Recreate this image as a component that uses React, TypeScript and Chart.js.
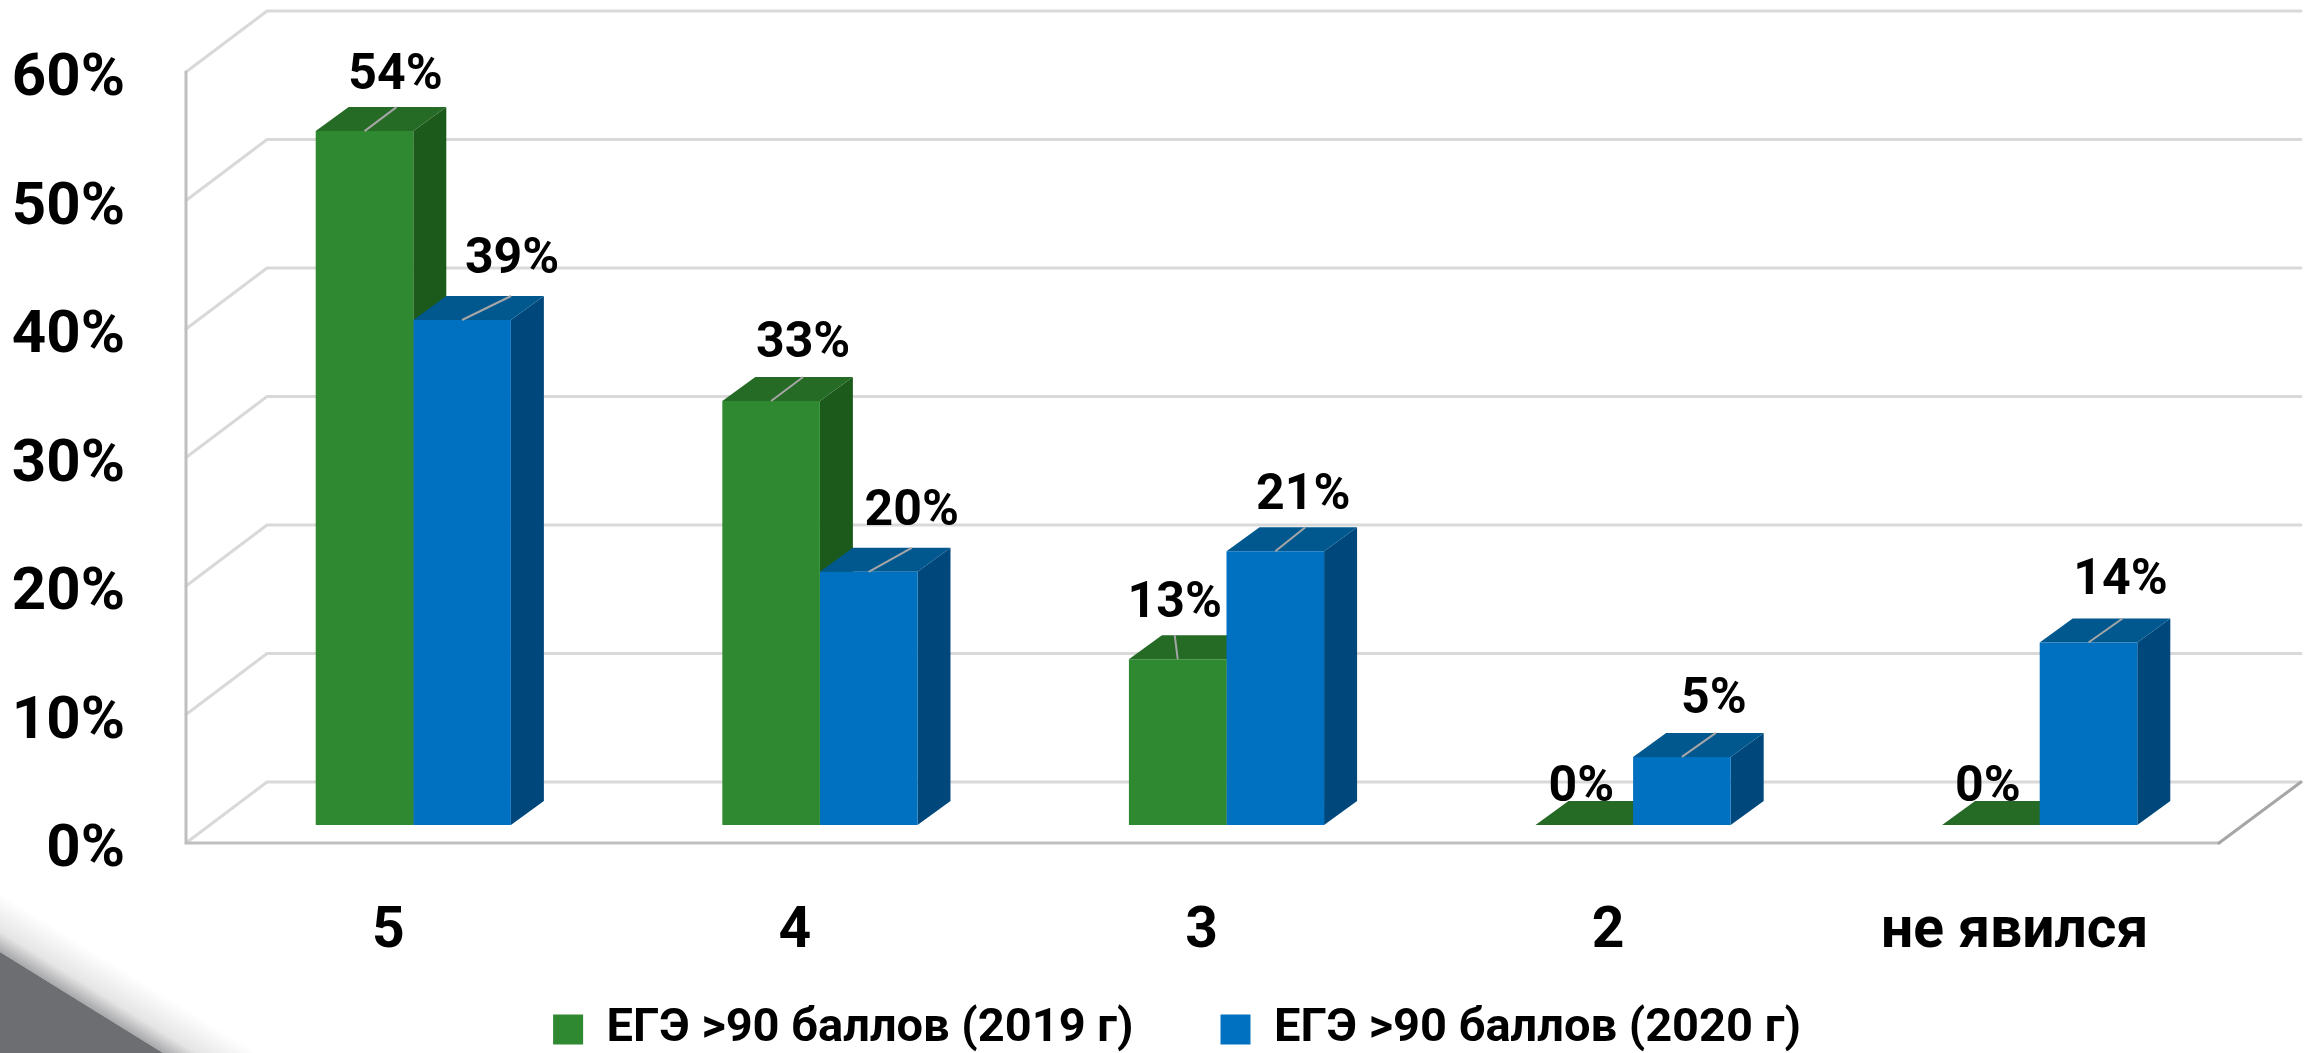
import React, { useEffect, useRef } from "react";
import { Chart, registerables } from "chart.js";

Chart.register(...registerables);

const categories = ["5", "4", "3", "2", "не явился"];
const seriesNames = ["ЕГЭ >90 баллов (2019 г)", "ЕГЭ >90 баллов (2020 г)"];
const values2019 = [54, 33, 12.9, 0, 0];
const values2020 = [39.3, 19.7, 21.3, 5.3, 14.2];
const yTicksMax = 60;
const yTickStep = 10;

// label shift from the middle of a bar's front-top edge, in pixels
const labelDx2019 = [31, 32, -3, -3, -3];
const labelDx2020 = [50, 43, 28, 32, 32];
const labelDy2019 = [-55, -56, -55, -37, -37];
const labelDy2020 = [-59, -59, -55, -56, -61];
const leaderDx2019 = [32, 32, -3, 0, 0];
const leaderDx2020 = [49, 43, 30, 34, 34];

const FONT = "Roboto, 'Noto Sans', sans-serif";
const GREEN = { front: "#2E8930", top: "#256A25", side: "#1C5A1C" };
const BLUE = { front: "#0070C0", top: "#00588F", side: "#00487C" };
const DEPTH_X = 33;
const DEPTH_Y = 24;
const PLOT_BOTTOM = 825;
const LEGEND_DROP = 10;

const faces = [GREEN, BLUE];

const decor = {
  id: "decor",
  afterLayout(chart: any) {
    // tick labels are clipped to their scale's box: let them reach the canvas edge
    chart.scales.y.left = 0;
    chart.scales.x.bottom = chart.height;
  },
  beforeDraw(chart: any) {
    const c = chart.ctx;
    const H = chart.height;
    c.save();
    c.fillStyle = "#fff";
    c.fillRect(0, 0, chart.width, H);
    // corner triangle with its soft shadow
    const ax = 0, ay = 952, bx = 163, by = H;
    const nx = 0.527, ny = -0.85, spread = 50;
    const mx = (ax + bx) / 2, my = (ay + by) / 2;
    const g = c.createLinearGradient(mx, my, mx + nx * spread, my + ny * spread);
    g.addColorStop(0, "rgba(109,110,113,0.6)");
    g.addColorStop(0.35, "rgba(109,110,113,0.18)");
    g.addColorStop(1, "rgba(109,110,113,0)");
    c.fillStyle = g;
    c.beginPath();
    c.moveTo(-200 * 1, ay - 200 * 0.62);
    c.lineTo(bx + 200, by + 200 * 0.62);
    c.lineTo(bx + 200 + nx * spread, by + 200 * 0.62 + ny * spread);
    c.lineTo(-200 + nx * spread, ay - 200 * 0.62 + ny * spread);
    c.closePath();
    c.fill();
    c.fillStyle = "#6D6E71";
    c.beginPath();
    c.moveTo(ax, ay);
    c.lineTo(bx, by);
    c.lineTo(0, by);
    c.closePath();
    c.fill();
    c.restore();
  },
  beforeDatasetsDraw(chart: any) {
    const c = chart.ctx;
    const y = chart.scales.y;
    const { left, right } = chart.chartArea;
    const frontL = left - 24, frontR = right - 24;
    const backL = frontL + 81, backR = frontR + 82;
    const frontDy = 18, backDy = -43;
    c.save();
    c.lineCap = "round";
    // back wall and side wall lines
    c.lineWidth = 3;
    c.strokeStyle = "#D9D9D9";
    y.ticks.forEach((t: any) => {
      const p = y.getPixelForValue(t.value);
      c.beginPath();
      c.moveTo(frontL, p + frontDy);
      c.lineTo(backL, p + backDy);
      c.lineTo(backR, p + backDy);
      c.stroke();
    });
    // floor edge and wall edge
    const y0 = y.getPixelForValue(0), yMax = y.getPixelForValue(yTicksMax);
    c.strokeStyle = "#BFBFBF";
    c.beginPath();
    c.moveTo(frontL, yMax + frontDy);
    c.lineTo(frontL, y0 + frontDy);
    c.lineTo(frontR, y0 + frontDy);
    c.stroke();
    c.strokeStyle = "#A6A6A6";
    c.beginPath();
    c.moveTo(frontR, y0 + frontDy);
    c.lineTo(backR, y0 + backDy);
    c.stroke();
    // top and side faces of the bars
    chart.data.datasets.forEach((_: any, i: number) => {
      const f = faces[i];
      chart.getDatasetMeta(i).data.forEach((b: any) => {
        const x0 = b.x - b.width / 2, x1 = b.x + b.width / 2;
        c.fillStyle = f.side;
        c.beginPath();
        c.moveTo(x1, b.y);
        c.lineTo(x1 + DEPTH_X, b.y - DEPTH_Y);
        c.lineTo(x1 + DEPTH_X, b.base - DEPTH_Y);
        c.lineTo(x1, b.base);
        c.closePath();
        c.fill();
        c.fillStyle = f.top;
        c.beginPath();
        c.moveTo(x0, b.y);
        c.lineTo(x0 + DEPTH_X, b.y - DEPTH_Y);
        c.lineTo(x1 + DEPTH_X, b.y - DEPTH_Y);
        c.lineTo(x1, b.y);
        c.closePath();
        c.fill();
      });
    });
    c.restore();
  },
  afterDatasetsDraw(chart: any) {
    const c = chart.ctx;
    const dxs = [labelDx2019, labelDx2020];
    const dys = [labelDy2019, labelDy2020];
    const ldx = [leaderDx2019, leaderDx2020];
    c.save();
    chart.data.datasets.forEach((ds: any, i: number) => {
      chart.getDatasetMeta(i).data.forEach((b: any, j: number) => {
        const v = ds.data[j];
        if (v > 0) {
          c.strokeStyle = "#A6A6A6";
          c.lineWidth = 2;
          c.beginPath();
          c.moveTo(b.x, b.y);
          c.lineTo(b.x + ldx[i][j], b.y - DEPTH_Y);
          c.stroke();
        }
        c.fillStyle = "#000";
        c.font = `bold 50px ${FONT}`;
        c.textAlign = "center";
        c.textBaseline = "middle";
        c.fillText(`${Math.round(v)}%`, b.x + dxs[i][j], b.y + dys[i][j]);
      });
    });
    c.restore();
  },
};

export default function App() {
  const ref = useRef<HTMLCanvasElement>(null);
  useEffect(() => {
    const chart = new Chart(ref.current as HTMLCanvasElement, {
      type: "bar",
      data: {
        labels: categories,
        datasets: [
          { label: seriesNames[0], data: values2019, backgroundColor: GREEN.front, borderWidth: 0 },
          { label: seriesNames[1], data: values2020, backgroundColor: BLUE.front, borderWidth: 0 },
        ],
      },
      plugins: [decor],
      options: {
        responsive: false,
        animation: false,
        layout: { autoPadding: false, padding: { left: 111, right: 72, top: 54, bottom: -LEGEND_DROP } },
        datasets: { bar: { barPercentage: 1, categoryPercentage: 0.48 } },
        scales: {
          x: {
            grid: { display: false },
            border: { display: false },
            ticks: {
              color: "#000",
              font: { family: FONT, weight: "bold", size: 57 },
              padding: 66,
              labelOffset: -25,
              maxRotation: 0,
              autoSkip: false,
            },
            afterFit(s: any) {
              s.height = 1053 + LEGEND_DROP - PLOT_BOTTOM - s.chart.legend.height;
            },
          },
          y: {
            min: 0,
            max: yTicksMax,
            grid: { display: false, drawTicks: true, tickLength: 85 },
            border: { display: false },
            ticks: {
              stepSize: yTickStep,
              color: "#000",
              font: { family: FONT, weight: "bold", size: 60 },
              padding: 0,
              labelOffset: 26,
              callback: (v: any) => `${v}%`,
            },
            afterFit(s: any) {
              s.width = 99;
            },
          },
        },
        plugins: {
          tooltip: { enabled: false },
          legend: {
            position: "bottom",
            labels: {
              color: "#000",
              font: { family: FONT, weight: "bold", size: 47 },
              boxWidth: 30,
              boxHeight: 30,
              padding: 87,
            },
          },
        },
      } as any,
    });
    return () => chart.destroy();
  }, []);
  return (
    <canvas
      ref={ref}
      width={2315}
      height={1053}
      style={{ position: "fixed", left: 0, top: 0, display: "block" }}
    />
  );
}
